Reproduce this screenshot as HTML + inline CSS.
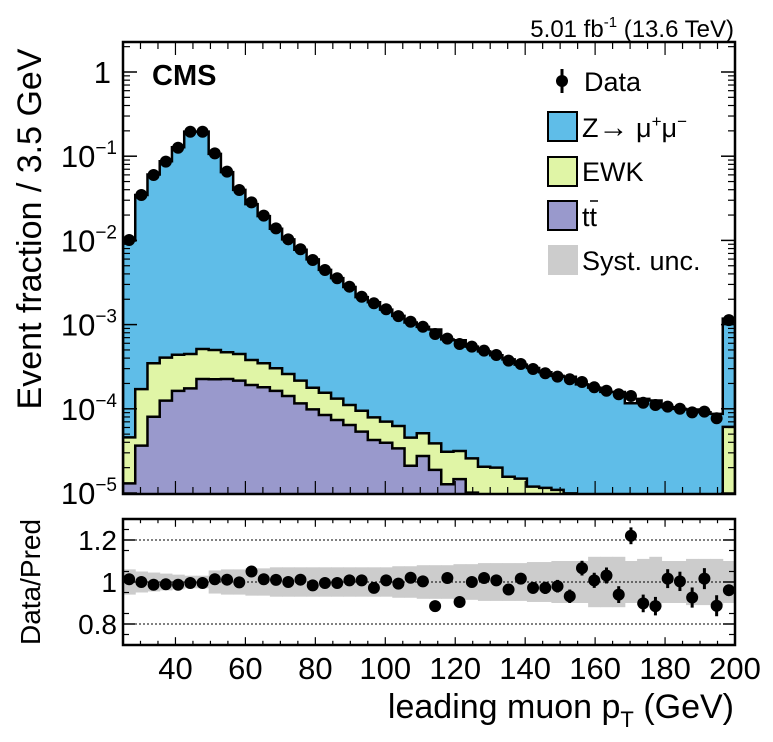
<!DOCTYPE html>
<html><head><meta charset="utf-8"><style>
html,body{margin:0;padding:0;background:#fff;}
svg{display:block;font-family:"Liberation Sans",sans-serif;}
</style></head><body>
<svg id="chart" width="773" height="742" viewBox="0 0 773 742" xmlns="http://www.w3.org/2000/svg">
<defs>
<clipPath id="topclip"><rect x="123" y="42" width="612" height="452"/></clipPath>
<clipPath id="botclip"><rect x="123" y="519" width="612" height="126"/></clipPath>
</defs>
<g id="topPanel"></g>
<g id="botPanel"></g>
<text x="734" y="37" text-anchor="end" font-size="24">5.01 fb<tspan dy="-10" font-size="15">-1</tspan><tspan dy="10"> (13.6 TeV)</tspan></text>
<text x="152" y="85" font-size="29" font-weight="bold">CMS</text>
<text transform="translate(41,229) rotate(-90)" text-anchor="middle" font-size="34">Event fraction / 3.5 GeV</text>
<text transform="translate(40,582) rotate(-90)" text-anchor="middle" font-size="28">Data/Pred</text>
<text x="734" y="718" text-anchor="end" font-size="34">leading muon p<tspan dy="9" font-size="22">T</tspan><tspan dy="-9"> (GeV)</tspan></text>
<g>
 <g><line x1="562" y1="69" x2="562" y2="93" stroke="#000" stroke-width="3"/><circle cx="562" cy="81" r="6"/><text x="584" y="91" font-size="27">Data</text></g>
 <g><rect x="548" y="112" width="29" height="29" fill="#5fbde8" stroke="#000" stroke-width="2"/><text x="582" y="137" font-size="27">Z<tspan font-size="30">→</tspan> μ<tspan dy="-10" font-size="17">+</tspan><tspan dy="10">μ</tspan><tspan dy="-10" font-size="17">−</tspan></text></g>
 <g><rect x="548" y="157" width="29" height="29" fill="#e0f5a6" stroke="#000" stroke-width="2"/><text x="582" y="181" font-size="27">EWK</text></g>
 <g><rect x="548" y="201" width="29" height="29" fill="#9999cc" stroke="#000" stroke-width="2"/><text x="582" y="226" font-size="27">tt</text><line x1="590" y1="201" x2="598" y2="201" stroke="#000" stroke-width="1.5"/></g>
 <g><rect x="548" y="245" width="30" height="30" fill="#cccccc"/><text x="582" y="270" font-size="27">Syst. unc.</text></g>
</g>
</svg>
<script>
const binEdgesStart = 25;
const binWidth = 3.5;
const dataVals = [0.0101,0.0346,0.0598,0.0861,0.126,0.195,0.195,0.108,0.0655,0.0397,0.0283,0.0197,0.0139,0.0103,0.00784,0.00585,0.00445,0.00355,0.00282,0.00214,0.00179,0.00152,0.00126,0.00108,0.000944,0.000773,0.000681,0.000589,0.000547,0.000490,0.000436,0.000373,0.000340,0.000297,0.000264,0.000241,0.000224,0.000208,0.000180,0.000164,0.000149,0.000142,0.000118,0.000111,0.000106,0.000100,0.0000908,0.0000925,0.0000771,0.00113];
const ratioVals = [1.013,1.0,0.987,0.989,0.987,0.995,0.995,1.013,1.011,0.998,1.05,1.013,1.01,1.0,1.011,0.984,0.995,0.995,1.008,1.008,0.972,1.008,0.992,1.02,1.003,0.885,1.019,0.905,1.0,1.019,1.008,0.964,1.016,0.972,0.972,0.98,0.932,1.066,1.008,1.031,0.94,1.22,0.898,0.885,1.016,1.003,0.926,1.016,0.887,0.961];
const ratioErr = [0.006,0.006,0.006,0.006,0.006,0.006,0.006,0.006,0.006,0.006,0.007,0.008,0.008,0.009,0.009,0.01,0.01,0.011,0.012,0.013,0.014,0.014,0.015,0.016,0.017,0.018,0.02,0.02,0.021,0.022,0.024,0.025,0.026,0.028,0.029,0.03,0.032,0.035,0.036,0.038,0.04,0.04,0.042,0.044,0.045,0.046,0.048,0.05,0.05,0.02];
const ttVals = [1.30e-5,3.65e-5,8.05e-5,1.25e-4,1.63e-4,1.75e-4,2.26e-4,2.24e-4,2.26e-4,2.16e-4,1.92e-4,1.80e-4,1.63e-4,1.42e-4,1.16e-4,9.86e-5,8.44e-5,7.36e-5,6.43e-5,5.35e-5,4.26e-5,3.95e-5,3.39e-5,2.11e-5,2.75e-5,1.88e-5,1.27e-5,1.46e-5,1.01e-5,5e-6,4e-6,3e-6,3e-6,2e-6,2e-6,2e-6,1e-6,1e-6,1e-6,1e-6,1e-6,1e-6,1e-6,1e-6,1e-6,1e-6,1e-6,1e-6,1e-6,5e-6];
const ewkVals = [3.28e-5,13.45e-5,26.65e-5,28.0e-5,27.6e-5,27.3e-5,28.7e-5,27.5e-5,24.3e-5,23.2e-5,18.8e-5,16.7e-5,14.0e-5,11.7e-5,10.0e-5,7.94e-5,7.06e-5,5.84e-5,4.67e-5,4.14e-5,3.66e-5,3.08e-5,2.86e-5,2.43e-5,2.37e-5,2.01e-5,1.82e-5,1.69e-5,1.57e-5,1.55e-5,1.6e-5,1.26e-5,1.18e-5,0.99e-5,0.95e-5,0.89e-5,0.89e-5,0.5e-5,0.5e-5,0.5e-5,0.5e-5,0.5e-5,0.5e-5,0.5e-5,0.5e-5,0.5e-5,0.5e-5,0.5e-5,0.5e-5,5.6e-5];
const systUnc = [0.06,0.05,0.045,0.04,0.035,0.03,0.03,0.055,0.06,0.06,0.065,0.065,0.07,0.07,0.07,0.07,0.07,0.07,0.07,0.07,0.07,0.07,0.075,0.075,0.08,0.08,0.08,0.085,0.085,0.09,0.09,0.09,0.09,0.095,0.095,0.1,0.1,0.1,0.12,0.12,0.12,0.1,0.11,0.12,0.1,0.1,0.11,0.11,0.11,0.1];
const xTicks = [40,60,80,100,120,140,160,180,200];
const yDecades = [0,-1,-2,-3,-4,-5];
const ratioTicks = [0.8,1,1.2];
const ratioTickLabels = ["0.8","1","1.2"];

const NS="http://www.w3.org/2000/svg";
const L=123,R=735,T=42,B=494,RT=519,RB=645;
const xs = g => L + (g-25)*(R-L)/175;
const ys = v => Math.min(B+5, 72 - 84.2*Math.log10(Math.max(v,1e-7)));
const yr = r => 582 - 210*(r-1);
function mk(parent,tag,attrs){const e=document.createElementNS(NS,tag);for(const k in attrs)e.setAttribute(k,attrs[k]);parent.appendChild(e);return e;}
const topG=document.getElementById('topPanel'), botG=document.getElementById('botPanel');
const n=dataVals.length;
const pred=dataVals.map((d,i)=>d/ratioVals[i]);
const cumTT=ttVals.slice();
const cumEWK=ttVals.map((t,i)=>t+ewkVals[i]);
const cumZ=pred.map(p=>p);
const gTop=mk(topG,'g',{'clip-path':'url(#topclip)'});
function stepPath(vals){
  let d='M'+xs(25)+','+(B+5);
  for(let i=0;i<n;i++){const x0=xs(25+i*binWidth),x1=xs(25+(i+1)*binWidth),y=ys(vals[i]);d+=' L'+x0+','+y+' L'+x1+','+y;}
  d+=' L'+xs(200)+','+(B+5)+' Z';return d;
}
[[cumZ,'#5fbde8','z-stack'],[cumEWK,'#e0f5a6','ewk-stack'],[cumTT,'#9999cc','ttbar-stack']].forEach(([v,c,nm])=>{
  const p=mk(gTop,'path',{d:stepPath(v),fill:c,stroke:'#000','stroke-width':2.5,'stroke-linejoin':'miter'});
  
  
});
for(let i=0;i<n;i++){
  const cx=xs(25+(i+0.5)*binWidth);
  const c=mk(gTop,'circle',{cx:cx,cy:ys(dataVals[i]),r:6,fill:'#000'});
  
  
}
mk(topG,'rect',{x:L,y:T,width:R-L,height:B-T,fill:'none',stroke:'#000','stroke-width':2.5});
for(const d of yDecades){
  const y=ys(Math.pow(10,d));
  mk(topG,'line',{x1:L,x2:L+14,y1:y,y2:y,stroke:'#000','stroke-width':1.5});
  mk(topG,'line',{x1:R-14,x2:R,y1:y,y2:y,stroke:'#000','stroke-width':1.5});
  const t=mk(topG,'text',{x:117,y:y+11,'text-anchor':'end','font-size':31});
  
  
  if(d===0){t.setAttribute('x',111);t.textContent='1';}
  else{t.innerHTML='10<tspan dy="-13" font-size="19">−'+(-d)+'</tspan>';}
  if(d>-5){for(let m=2;m<=9;m++){const ym=ys(m*Math.pow(10,d-1));
    mk(topG,'line',{x1:L,x2:L+7,y1:ym,y2:ym,stroke:'#000','stroke-width':1.2});
    mk(topG,'line',{x1:R-7,x2:R,y1:ym,y2:ym,stroke:'#000','stroke-width':1.2});}}
}
{const ym=ys(2);mk(topG,'line',{x1:L,x2:L+7,y1:ym,y2:ym,stroke:'#000','stroke-width':1.2});mk(topG,'line',{x1:R-7,x2:R,y1:ym,y2:ym,stroke:'#000','stroke-width':1.2});}
for(let g=30;g<200;g+=5){
  const x=xs(g),len=(g%20===0)?13:7;
  mk(topG,'line',{x1:x,x2:x,y1:B,y2:B-len,stroke:'#000','stroke-width':1.2});
  mk(topG,'line',{x1:x,x2:x,y1:T,y2:T+len,stroke:'#000','stroke-width':1.2});
  mk(botG,'line',{x1:x,x2:x,y1:RB,y2:RB-len*0.6,stroke:'#000','stroke-width':1.2});
  mk(botG,'line',{x1:x,x2:x,y1:RT,y2:RT+len*0.6,stroke:'#000','stroke-width':1.2});
}
const gBot=mk(botG,'g',{'clip-path':'url(#botclip)'});
for(let i=0;i<n;i++){
  const x0=xs(25+i*binWidth),x1=xs(25+(i+1)*binWidth);
  const r=mk(gBot,'rect',{x:x0,y:yr(1+systUnc[i]),width:x1-x0+0.5,height:yr(1-systUnc[i])-yr(1+systUnc[i]),fill:'#cccccc'});
  
  
}
ratioTicks.forEach((v,i)=>{
  const y=yr(v);
  mk(gBot,'line',{x1:L,x2:R,y1:y,y2:y,stroke:'#000','stroke-width':1,'stroke-dasharray':'2,2'});
  const t=mk(botG,'text',{x:117,y:y+10,'text-anchor':'end','font-size':28});
  t.textContent=ratioTickLabels[i];
  
  
  mk(botG,'line',{x1:L,x2:L+12,y1:y,y2:y,stroke:'#000','stroke-width':1.5});
  mk(botG,'line',{x1:R-12,x2:R,y1:y,y2:y,stroke:'#000','stroke-width':1.5});
});
for(let v=0.75;v<1.3;v+=0.1){const y=yr(v);
  mk(botG,'line',{x1:L,x2:L+6,y1:y,y2:y,stroke:'#000','stroke-width':1.2});
  mk(botG,'line',{x1:R-6,x2:R,y1:y,y2:y,stroke:'#000','stroke-width':1.2});}
for(let i=0;i<n;i++){
  const cx=xs(25+(i+0.5)*binWidth);
  const l=mk(gBot,'line',{x1:cx,x2:cx,y1:yr(ratioVals[i]+ratioErr[i]),y2:yr(ratioVals[i]-ratioErr[i]),stroke:'#000','stroke-width':3});
  
  
  const c=mk(gBot,'circle',{cx:cx,cy:yr(ratioVals[i]),r:6,fill:'#000'});
  
  
}
mk(botG,'rect',{x:L,y:RT,width:R-L,height:RB-RT,fill:'none',stroke:'#000','stroke-width':2.5});
xTicks.forEach(g=>{
  const t=mk(botG,'text',{x:xs(g),y:679,'text-anchor':'middle','font-size':31});
  t.textContent=String(g);
  
  
});
</script>
</body></html>
